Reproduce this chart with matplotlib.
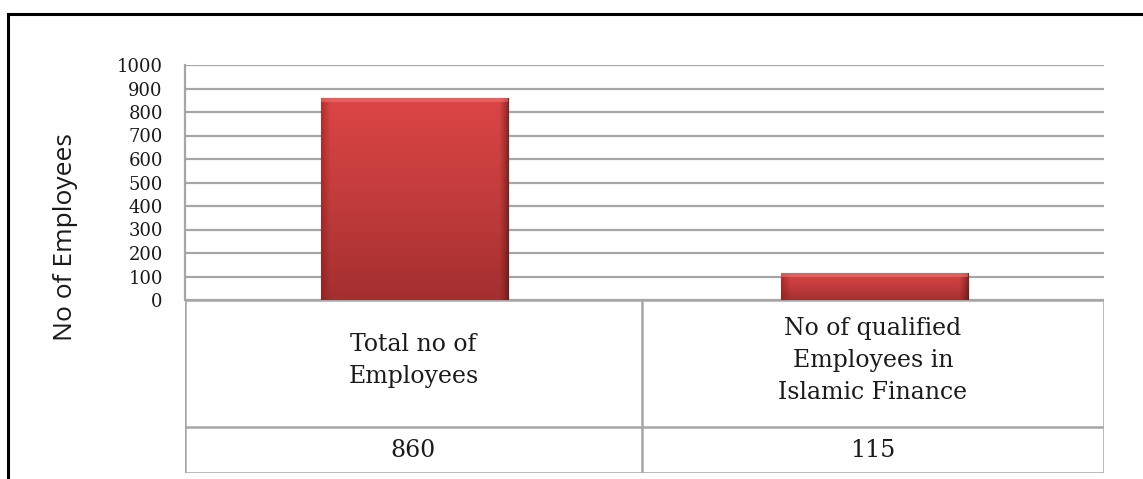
import numpy as np
import matplotlib
matplotlib.use("Agg")
import matplotlib.pyplot as plt
from matplotlib.lines import Line2D
from matplotlib.colors import LinearSegmentedColormap

categories = ["Total no of\nEmployees", "No of qualified\nEmployees in\nIslamic Finance"]
values = [860, 115]
yticks = [0, 100, 200, 300, 400, 500, 600, 700, 800, 900, 1000]
ylabel = "No of Employees"

W, H = 1143, 479
fig = plt.figure(figsize=(W / 100, H / 100), dpi=100)

def fx(px):
    return px / W

def fy(py):
    return 1 - py / H

serif = ["DejaVu Serif"]
grid_c = "#a6a6a6"

# main axes
left_px, right_px, top_px, bot_px = 185, 1104, 65, 300
ax = fig.add_axes([fx(left_px), fy(bot_px), fx(right_px - left_px), (bot_px - top_px) / H])
x = np.arange(len(values))
ax.set_xlim(-0.5, len(values) - 0.5)
ax.set_ylim(0, 1000)
bars = ax.bar(x, values, width=0.407, color="#c83a3a", edgecolor="#7a2020", linewidth=0.8, zorder=3)

cmap = LinearSegmentedColormap.from_list("r", ["#a42f2f", "#c23c3c", "#dc4545"])
grad = np.linspace(0, 1, 256).reshape(-1, 1)
side_cmap = LinearSegmentedColormap.from_list(
    "s", [(0.0, (0.45, 0.1, 0.1, 0.45)), (0.05, (0.5, 0.1, 0.1, 0.0)),
          (0.95, (0.5, 0.1, 0.1, 0.0)), (1.0, (0.3, 0.05, 0.05, 0.6))])
for b in bars:
    bx, by, bw, bh = b.get_x(), b.get_y(), b.get_width(), b.get_height()
    im = ax.imshow(grad, extent=[bx, bx + bw, by, by + bh], origin="lower", cmap=cmap,
                   aspect="auto", zorder=3.5)
    im.set_clip_path(b)
    side = np.linspace(0, 1, 256).reshape(1, -1)
    im2 = ax.imshow(side, extent=[bx, bx + bw, by, by + bh], origin="lower",
                    cmap=side_cmap, aspect="auto", zorder=3.55)
    im2.set_clip_path(b)
    # top bevel highlight
    ax.fill_between([bx, bx + bw], by + bh - 16, by + bh, color="#f07878", alpha=0.55,
                    zorder=3.6, linewidth=0)

ax.set_xlim(-0.5, len(values) - 0.5)
ax.set_yticks(yticks)
ax.set_yticklabels([str(t) for t in yticks], fontfamily=serif, fontsize=13, color="#1a1a1a")
ax.tick_params(axis="y", length=0, pad=16)
ax.tick_params(axis="x", length=0, labelbottom=False)
ax.yaxis.grid(True, color=grid_c, linewidth=1.6, zorder=1)
ax.set_axisbelow(True)
for s in ["top", "right", "bottom"]:
    ax.spines[s].set_visible(False)
ax.spines["left"].set_color(grid_c)
ax.spines["left"].set_linewidth(1.6)

# table axes
tab_top, row_div, tab_bot, col_div = 300, 427, 473, 642
tax = fig.add_axes([fx(left_px), fy(tab_bot), fx(right_px - left_px), (tab_bot - tab_top) / H])
tax.set_xlim(left_px, right_px)
tax.set_ylim(tab_bot, tab_top)
tax.axis("off")
lw = 1.8
for yy in [tab_top, row_div, tab_bot]:
    tax.add_line(Line2D([left_px, right_px], [yy, yy], color=grid_c, linewidth=lw))
for xx in [left_px, col_div, right_px]:
    tax.add_line(Line2D([xx, xx], [tab_top, tab_bot], color=grid_c, linewidth=lw))
cols = [(left_px, col_div), (col_div, right_px)]
for (a, b), cat, v in zip(cols, categories, values):
    cx = (a + b) / 2
    tax.text(cx, (tab_top + row_div) / 2 - 3, cat, ha="center", va="center", fontfamily=serif,
             fontsize=17, linespacing=1.5, color="#1a1a1a")
    tax.text(cx, (row_div + tab_bot) / 2, str(v), ha="center", va="center", fontfamily=serif,
             fontsize=17, color="#1a1a1a")

# y label
fig.text(fx(65), fy(237), ylabel, rotation=90, ha="center", va="center",
         fontfamily=["Open Sans", "DejaVu Sans"], fontsize=19, color="#1a1a1a")

# outer border
fig.add_artist(Line2D([fx(8), 1.0], [fy(14), fy(14)], color="black", linewidth=2.2))
fig.add_artist(Line2D([fx(8), fx(8)], [fy(14), 0.0], color="black", linewidth=2.2))

fig.savefig("out.png", dpi=100, facecolor="white")
